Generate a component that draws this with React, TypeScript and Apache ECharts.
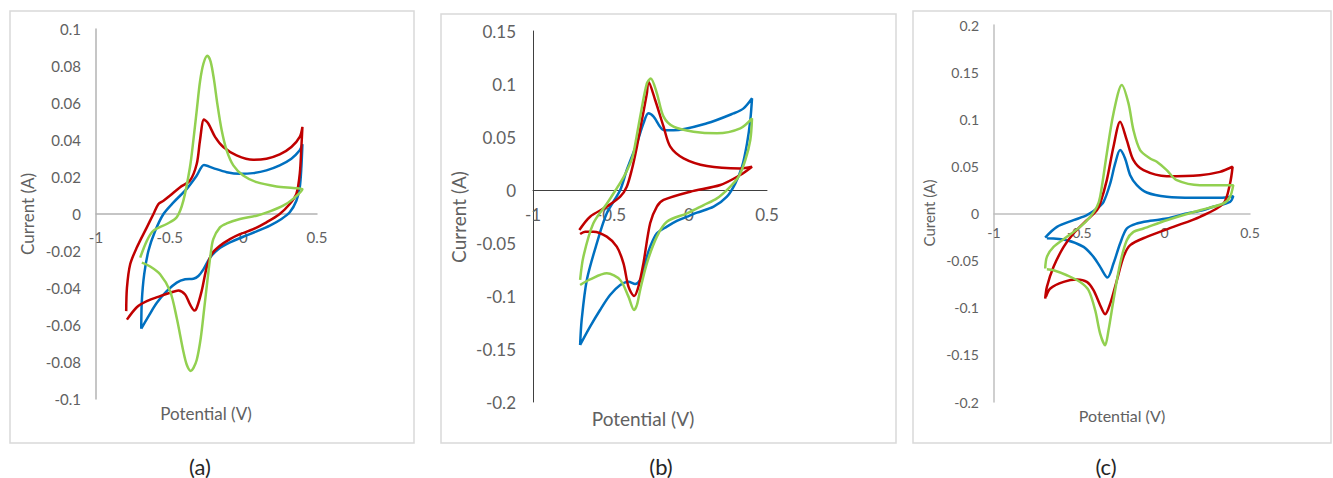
import React, { useEffect, useRef } from "react";
import * as echarts from "echarts";

// ---------- axis ticks ----------
const xTicks = [-1, -0.5, 0, 0.5];
const yTicksA = [-0.1, -0.08, -0.06, -0.04, -0.02, 0, 0.02, 0.04, 0.06, 0.08, 0.1];
const yTicksB = [-0.2, -0.15, -0.1, -0.05, 0, 0.05, 0.1, 0.15];
const yTicksC = [-0.2, -0.15, -0.1, -0.05, 0, 0.05, 0.1, 0.15, 0.2];

const panelLabels = ["(a)", "(b)", "(c)"];
const xTitle = "Potential (V)";
const yTitles = ["Current (A)", "Current (A)", "Curent (A)"];

// ---------- panel (a) ----------
const aBlue = [
  [-0.693, -0.062], [-0.689, -0.0471], [-0.673, -0.0326], [-0.644, -0.0199], [-0.598, -0.0091],
  [-0.542, 0], [-0.474, 0.0063], [-0.384, 0.0136], [-0.316, 0.0208], [-0.267, 0.0265],
  [-0.204, 0.0248], [-0.113, 0.0226], [-0.023, 0.0217], [0.067, 0.0221], [0.157, 0.0236],
  [0.247, 0.0263], [0.326, 0.0299], [0.383, 0.0344], [0.401, 0.0377],
  [0.394, 0.0254], [0.383, 0.0145], [0.36, 0.0072], [0.315, 0.0009], [0.259, -0.0027],
  [0.18, -0.0063], [0.09, -0.0094], [-0.001, -0.0123], [-0.091, -0.0154], [-0.17, -0.019],
  [-0.226, -0.0236], [-0.271, -0.0299], [-0.305, -0.0335], [-0.339, -0.035], [-0.395, -0.0353],
  [-0.452, -0.0371], [-0.52, -0.0417], [-0.587, -0.048], [-0.644, -0.0553], [-0.693, -0.062],
];
const aRed = [
  [-0.795, -0.0525], [-0.79, -0.0399], [-0.768, -0.0272], [-0.723, -0.0181], [-0.655, -0.0072],
  [-0.61, 0], [-0.576, 0.0054], [-0.542, 0.0072], [-0.497, 0.01], [-0.429, 0.0145],
  [-0.362, 0.0181], [-0.316, 0.0272], [-0.294, 0.0399], [-0.267, 0.0511], [-0.238, 0.0489],
  [-0.192, 0.0417], [-0.136, 0.0362], [-0.046, 0.0317], [0.067, 0.0293], [0.157, 0.0299],
  [0.247, 0.0322], [0.326, 0.0362], [0.383, 0.0417], [0.401, 0.0471],
  [0.394, 0.0362], [0.383, 0.0217], [0.36, 0.0109], [0.315, 0.0054], [0.247, 0],
  [0.157, -0.0045], [0.067, -0.0082], [-0.023, -0.0109], [-0.091, -0.0136], [-0.159, -0.0172],
  [-0.215, -0.0217], [-0.249, -0.029], [-0.283, -0.0417], [-0.316, -0.0507], [-0.332, -0.0522],
  [-0.362, -0.0489], [-0.395, -0.0435], [-0.441, -0.0413], [-0.497, -0.0426], [-0.565, -0.0444],
  [-0.655, -0.0471], [-0.723, -0.0504], [-0.79, -0.0571],
];
const aGreen = [
  [-0.7, -0.0236], [-0.655, -0.0145], [-0.61, -0.009], [-0.52, -0.0054], [-0.452, -0.0018],
  [-0.407, 0.0072], [-0.362, 0.0254], [-0.339, 0.0399], [-0.316, 0.0562], [-0.294, 0.0716],
  [-0.271, 0.0812], [-0.244, 0.0855], [-0.222, 0.0824], [-0.199, 0.0725], [-0.177, 0.0598],
  [-0.147, 0.0453], [-0.113, 0.0344], [-0.068, 0.0263], [-0.001, 0.0208], [0.09, 0.0172],
  [0.225, 0.0149], [0.338, 0.014], [0.401, 0.0134],
  [0.338, 0.0082], [0.27, 0.0045], [0.18, 0.0014], [0.09, -0.0009], [-0.023, -0.0027],
  [-0.113, -0.0051], [-0.159, -0.0072], [-0.204, -0.0136], [-0.222, -0.0217], [-0.244, -0.0362],
  [-0.265, -0.0507], [-0.289, -0.067], [-0.316, -0.0788], [-0.339, -0.0833], [-0.357, -0.0848],
  [-0.384, -0.0815], [-0.407, -0.0743], [-0.452, -0.0562], [-0.497, -0.0417], [-0.565, -0.0326],
  [-0.632, -0.0284], [-0.689, -0.0263],
];

// ---------- panel (b) ----------
const bBlue = [
  [-0.698, -0.1462], [-0.688, -0.1226], [-0.655, -0.0849], [-0.591, -0.0503], [-0.527, -0.022],
  [-0.441, 0], [-0.399, 0.0189], [-0.334, 0.044], [-0.292, 0.0629], [-0.26, 0.0723],
  [-0.227, 0.0692], [-0.163, 0.0566], [-0.099, 0.0563], [0.115, 0.0629], [0.286, 0.0723],
  [0.35, 0.077], [0.404, 0.0865],
  [0.393, 0.066], [0.372, 0.044], [0.34, 0.022], [0.297, 0.0063], [0.243, -0.0063],
  [0.158, -0.0157], [0.051, -0.0214], [-0.013, -0.0252], [-0.078, -0.0292], [-0.142, -0.0346],
  [-0.206, -0.0409], [-0.249, -0.0535], [-0.27, -0.0629], [-0.292, -0.0755], [-0.313, -0.0849],
  [-0.345, -0.0887], [-0.388, -0.0865], [-0.441, -0.0896], [-0.506, -0.0991], [-0.57, -0.1132],
  [-0.634, -0.1289], [-0.698, -0.1462],
];
const bRed = [
  [-0.703, -0.0377], [-0.634, -0.0252], [-0.527, -0.0157], [-0.441, -0.0063], [-0.399, 0.0031],
  [-0.367, 0.0189], [-0.334, 0.0409], [-0.302, 0.066], [-0.27, 0.0912], [-0.26, 0.1022],
  [-0.217, 0.0849], [-0.163, 0.0597], [-0.12, 0.0409], [-0.035, 0.0299], [0.115, 0.0226],
  [0.329, 0.0204], [0.404, 0.022],
  [0.329, 0.0142], [0.201, 0.0047], [0.008, -0.0016], [-0.163, -0.0094], [-0.206, -0.0157],
  [-0.249, -0.0314], [-0.292, -0.069], [-0.324, -0.0912], [-0.352, -0.1], [-0.388, -0.0912],
  [-0.42, -0.0692], [-0.463, -0.0535], [-0.527, -0.044], [-0.613, -0.0393], [-0.666, -0.0393],
  [-0.698, -0.0415],
];
const bGreen = [
  [-0.698, -0.0849], [-0.677, -0.0629], [-0.613, -0.0314], [-0.527, -0.013], [-0.47, 0],
  [-0.42, 0.012], [-0.377, 0.025], [-0.356, 0.0346], [-0.313, 0.0692], [-0.27, 0.1006],
  [-0.245, 0.1053], [-0.206, 0.0912], [-0.163, 0.0692], [-0.099, 0.0597], [0.029, 0.055],
  [0.179, 0.0535], [0.329, 0.0582], [0.404, 0.0676],
  [0.393, 0.0472], [0.361, 0.0283], [0.318, 0.0126], [0.254, 0.0016], [0.179, -0.0079],
  [0.094, -0.0142], [-0.013, -0.022], [-0.142, -0.0299], [-0.206, -0.044], [-0.27, -0.0692],
  [-0.313, -0.0943], [-0.334, -0.1085], [-0.352, -0.1132], [-0.388, -0.1006], [-0.441, -0.0849],
  [-0.527, -0.0786], [-0.634, -0.0843], [-0.698, -0.0896],
];

// ---------- panel (c) ----------
const cBlue = [
  [-0.7, -0.0255], [-0.631, -0.0142], [-0.534, -0.0071], [-0.456, -0.0018], [-0.397, 0.0053],
  [-0.358, 0.0124], [-0.319, 0.0319], [-0.29, 0.0531], [-0.261, 0.0673], [-0.232, 0.0584],
  [-0.202, 0.0407], [-0.163, 0.0301], [-0.105, 0.0223], [0.012, 0.0177], [0.168, 0.0166],
  [0.324, 0.0166], [0.402, 0.0184],
  [0.383, 0.0124], [0.285, 0.0071], [0.207, 0.0028], [0.129, 0], [0.012, -0.0053],
  [-0.085, -0.0078], [-0.163, -0.0106], [-0.222, -0.0159], [-0.261, -0.0319], [-0.3, -0.0531],
  [-0.335, -0.068], [-0.378, -0.0566], [-0.417, -0.046], [-0.475, -0.0354], [-0.573, -0.0283],
  [-0.69, -0.0262],
];
const cRed = [
  [-0.7, -0.0903], [-0.69, -0.0779], [-0.651, -0.0566], [-0.592, -0.0354], [-0.534, -0.0212],
  [-0.456, -0.0071], [-0.397, 0.0035], [-0.378, 0.0106], [-0.339, 0.0354], [-0.3, 0.0708],
  [-0.261, 0.0973], [-0.222, 0.0779], [-0.183, 0.0566], [-0.124, 0.046], [0.012, 0.0396],
  [0.207, 0.0407], [0.324, 0.0442], [0.398, 0.0496],
  [0.383, 0.0319], [0.344, 0.0106], [0.207, -0.0035], [0.051, -0.0142], [-0.105, -0.0248],
  [-0.202, -0.0336], [-0.241, -0.046], [-0.28, -0.0708], [-0.319, -0.0956], [-0.349, -0.1069],
  [-0.378, -0.0973], [-0.417, -0.0814], [-0.456, -0.0726], [-0.514, -0.0701], [-0.592, -0.0726],
  [-0.67, -0.0796], [-0.696, -0.0885],
];
const cGreen = [
  [-0.7, -0.0584], [-0.69, -0.046], [-0.651, -0.0354], [-0.573, -0.0248], [-0.495, -0.0142],
  [-0.436, -0.0035], [-0.397, 0.0071], [-0.378, 0.0177], [-0.339, 0.0637], [-0.3, 0.1062],
  [-0.251, 0.1363], [-0.212, 0.1168], [-0.183, 0.0885], [-0.144, 0.0673], [-0.085, 0.0584],
  [-0.046, 0.0549], [0.012, 0.046], [0.071, 0.0354], [0.207, 0.0301], [0.402, 0.0301],
  [0.383, 0.0177], [0.344, 0.0106], [0.207, 0.0035], [0.012, -0.0071], [-0.124, -0.0159],
  [-0.183, -0.0195], [-0.222, -0.0283], [-0.261, -0.0531], [-0.3, -0.092], [-0.329, -0.1239],
  [-0.349, -0.1398], [-0.378, -0.1274], [-0.407, -0.1027], [-0.446, -0.0814], [-0.495, -0.0726],
  [-0.573, -0.0655], [-0.651, -0.0602], [-0.69, -0.0591],
];

const BLUE = "#0070C0";
const RED = "#C00000";
const GREEN = "#92D050";
const FONT = 'Lato, "Liberation Sans", sans-serif';
const TEXT = "#616161";

const step = (t: number[]) => +(t[1] - t[0]).toFixed(6);

export default function App() {
  const ref = useRef<HTMLDivElement>(null);

  useEffect(() => {
    const chart = echarts.init(ref.current!, null, { renderer: "svg" });

    const grids = [
      { left: 96, top: 29, width: 221, height: 370 },
      { left: 533, top: 31, width: 234, height: 371 },
      { left: 994, top: 25, width: 256, height: 377 },
    ];
    const yTicks = [yTicksA, yTicksB, yTicksC];
    const fs = [15, 17, 14];
    const xMargin = [15, 16, 12];
    const yMargin = [15, 17, 15];
    const axisColor = ["#b3b3b3", "#404040", "#bfbfbf"];
    const axisWidth = [1.5, 1, 1.5];

    // the x axis sits on the zero current line: shift it up from the grid bottom
    const zeroOffset = (i: number) => {
      const t = yTicks[i];
      const lo = t[0];
      const hi = t[t.length - 1];
      return -grids[i].height * (0 - lo) / (hi - lo);
    };

    const xAxis = grids.map((_, i) => ({
      gridIndex: i,
      type: "value",
      position: "bottom",
      offset: zeroOffset(i),
      min: xTicks[0],
      max: xTicks[xTicks.length - 1],
      interval: step(xTicks),
      axisLine: { show: true, onZero: false, lineStyle: { color: axisColor[i], width: axisWidth[i] } },
      axisTick: { show: false },
      splitLine: { show: false },
      axisLabel: { color: TEXT, fontSize: fs[i], fontFamily: FONT, margin: xMargin[i] },
    }));
    const yAxis = grids.map((_, i) => ({
      gridIndex: i,
      type: "value",
      position: "left",
      min: yTicks[i][0],
      max: yTicks[i][yTicks[i].length - 1],
      interval: step(yTicks[i]),
      axisLine: { show: true, onZero: false, lineStyle: { color: axisColor[i], width: axisWidth[i] } },
      axisTick: { show: false },
      splitLine: { show: false },
      axisLabel: { color: TEXT, fontSize: fs[i], fontFamily: FONT, margin: yMargin[i] },
    }));

    const mk = (data: number[][], color: string, idx: number) => ({
      type: "line",
      xAxisIndex: idx,
      yAxisIndex: idx,
      data,
      showSymbol: false,
      smooth: 0.3,
      color,
      lineStyle: { color, width: 2.5 },
      z: 3,
    });

    const series = [
      mk(aBlue, BLUE, 0), mk(aRed, RED, 0), mk(aGreen, GREEN, 0),
      mk(bBlue, BLUE, 1), mk(bRed, RED, 1), mk(bGreen, GREEN, 1),
      mk(cBlue, BLUE, 2), mk(cRed, RED, 2), mk(cGreen, GREEN, 2),
    ];

    const borders = [
      { x: 10, y: 11, w: 404, h: 432 },
      { x: 441, y: 14, w: 455, h: 429 },
      { x: 913, y: 11, w: 418, h: 432 },
    ];
    const yTitlePos = [[27, 214, 17], [458, 217, 19], [929, 213, 15]];
    const xTitlePos = [[206, 413, 17], [643, 418, 19], [1122, 415, 16]];
    const labelPos = [[200, 466], [661, 466], [1106, 466]];

    const txt = (x: number, y: number, text: string, size: number, fill: string, rot = 0) => ({
      type: "text",
      x,
      y,
      rotation: rot,
      z: 10,
      style: {
        text,
        fill,
        fontSize: size,
        fontFamily: FONT,
        textAlign: "center",
        textVerticalAlign: "middle",
        align: "center",
        verticalAlign: "middle",
      },
    });

    const graphic: any[] = [];
    borders.forEach((b) =>
      graphic.push({
        type: "rect",
        shape: { x: b.x, y: b.y, width: b.w, height: b.h },
        style: { fill: "none", stroke: "#d9d9d9", lineWidth: 1.5 },
        z: -1,
      })
    );
    yTitlePos.forEach((p, i) => graphic.push(txt(p[0], p[1], yTitles[i], p[2], TEXT, Math.PI / 2)));
    xTitlePos.forEach((p) => graphic.push(txt(p[0], p[1], xTitle, p[2], TEXT)));
    labelPos.forEach((p, i) => graphic.push(txt(p[0], p[1], panelLabels[i], 22, "#262626")));

    chart.setOption({
      animation: false,
      backgroundColor: "#ffffff",
      grid: grids,
      xAxis,
      yAxis,
      series,
      graphic,
    });

    return () => chart.dispose();
  }, []);

  return (
    <div
      ref={ref}
      style={{ position: "absolute", left: 0, top: 0, width: 1333, height: 478, background: "#fff" }}
    />
  );
}
